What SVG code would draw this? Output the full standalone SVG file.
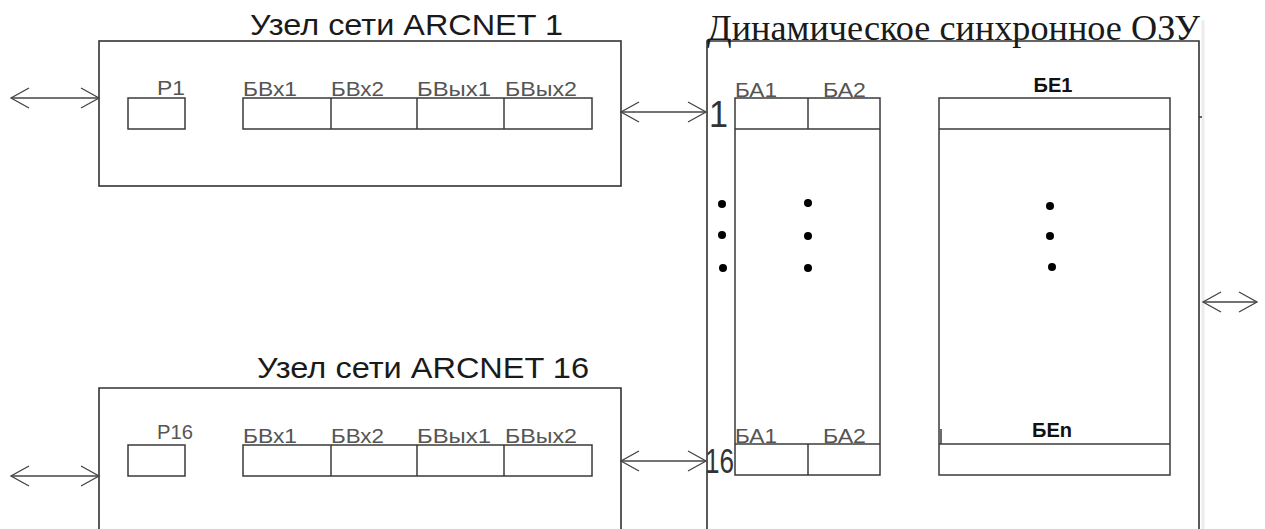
<svg xmlns="http://www.w3.org/2000/svg" width="1265" height="529" viewBox="0 0 1265 529">
<style>
.box{fill:none;stroke:#333;stroke-width:1.6}
.cell{fill:none;stroke:#3a3a3a;stroke-width:1.5}
.conn{fill:none;stroke:#444;stroke-width:1.3}
.title{font-family:"Liberation Sans",Arial,sans-serif;font-size:30px;fill:#1a1a1a}
.rtitle{font-family:"Liberation Serif","Times New Roman",serif;font-size:35px;fill:#1a1a1a}
.lbl{font-family:"Liberation Sans",Arial,sans-serif;font-size:21px;fill:#555}
.num{font-family:"Liberation Sans",Arial,sans-serif;fill:#333}
.bold{font-family:"Liberation Sans",Arial,sans-serif;font-size:20px;font-weight:bold;fill:#111;text-anchor:middle}
.dot{fill:#000}
</style>
<defs>
<marker id="chev" viewBox="-20 -12 22 24" markerWidth="22" markerHeight="24" refX="0" refY="0" orient="auto-start-reverse" markerUnits="userSpaceOnUse">
<path d="M-18,-10 L0,0 L-18,10" fill="none" stroke="#444" stroke-width="1.3"/>
</marker>
</defs>
<rect width="1265" height="529" fill="#fff"/>

<g id="node1">
<rect class="box" x="99" y="41" width="522" height="145"/>
<text class="title" x="250" y="35" textLength="313" lengthAdjust="spacingAndGlyphs">Узел сети ARCNET 1</text>
<rect class="cell" x="128" y="98" width="57" height="31"/>
<rect class="cell" x="243" y="98" width="349" height="31"/>
<line class="cell" x1="331" y1="98" x2="331" y2="129"/>
<line class="cell" x1="417" y1="98" x2="417" y2="129"/>
<line class="cell" x1="504" y1="98" x2="504" y2="129"/>
<text class="lbl" x="157" y="95" textLength="28" lengthAdjust="spacingAndGlyphs">P1</text>
<text class="lbl" x="243" y="96" textLength="54" lengthAdjust="spacingAndGlyphs">БВх1</text>
<text class="lbl" x="331" y="96" textLength="53" lengthAdjust="spacingAndGlyphs">БВх2</text>
<text class="lbl" x="417" y="96" textLength="74" lengthAdjust="spacingAndGlyphs">БВых1</text>
<text class="lbl" x="505" y="96" textLength="72" lengthAdjust="spacingAndGlyphs">БВых2</text>
</g>

<g id="node16">
<path class="box" d="M99,540 V388 H621 V540"/>
<text class="title" x="257" y="378" textLength="332" lengthAdjust="spacingAndGlyphs">Узел сети ARCNET 16</text>
<rect class="cell" x="128" y="445" width="57" height="31"/>
<rect class="cell" x="243" y="445" width="349" height="31"/>
<line class="cell" x1="331" y1="445" x2="331" y2="476"/>
<line class="cell" x1="417" y1="445" x2="417" y2="476"/>
<line class="cell" x1="504" y1="445" x2="504" y2="476"/>
<text class="lbl" x="157" y="439" textLength="36" lengthAdjust="spacingAndGlyphs">P16</text>
<text class="lbl" x="243" y="443" textLength="54" lengthAdjust="spacingAndGlyphs">БВх1</text>
<text class="lbl" x="331" y="443" textLength="53" lengthAdjust="spacingAndGlyphs">БВх2</text>
<text class="lbl" x="417" y="443" textLength="74" lengthAdjust="spacingAndGlyphs">БВых1</text>
<text class="lbl" x="505" y="443" textLength="72" lengthAdjust="spacingAndGlyphs">БВых2</text>
</g>

<g id="ram">
<path class="box" d="M707,540 V41 H1199 V540"/>
<line x1="1203" y1="20" x2="1203" y2="540" stroke="#ececec" stroke-width="3"/>
<text class="rtitle" x="707" y="40" textLength="493" lengthAdjust="spacingAndGlyphs">Динамическое синхронное ОЗУ</text>
<text class="num" x="709" y="127" font-size="37" textLength="19" lengthAdjust="spacingAndGlyphs">1</text>
<text class="num" x="705" y="473" font-size="35" textLength="29" lengthAdjust="spacingAndGlyphs">16</text>
<line x1="1199" y1="117" x2="1202" y2="117" stroke="#333" stroke-width="1.5"/>
</g>

<g id="ba-column">
<rect class="cell" x="735" y="98" width="145" height="377"/>
<line class="cell" x1="735" y1="129" x2="880" y2="129"/>
<line class="cell" x1="808" y1="98" x2="808" y2="129"/>
<line class="cell" x1="735" y1="444" x2="880" y2="444"/>
<line class="cell" x1="808" y1="444" x2="808" y2="475"/>
<text class="lbl" x="735" y="97" textLength="42" lengthAdjust="spacingAndGlyphs">БА1</text>
<text class="lbl" x="823" y="97" textLength="43" lengthAdjust="spacingAndGlyphs">БА2</text>
<text class="lbl" x="735" y="443" textLength="42" lengthAdjust="spacingAndGlyphs">БА1</text>
<text class="lbl" x="823" y="443" textLength="43" lengthAdjust="spacingAndGlyphs">БА2</text>
</g>

<g id="be-column">
<rect class="cell" x="939" y="98" width="231" height="377"/>
<line class="cell" x1="939" y1="129" x2="1170" y2="129"/>
<line class="cell" x1="939" y1="444" x2="1170" y2="444"/>
<line class="cell" x1="941" y1="429" x2="941" y2="444"/>
<text class="bold" x="1053" y="92">БЕ1</text>
<text class="bold" x="1052" y="437">БЕn</text>
</g>

<g id="dots">
<circle class="dot" cx="722" cy="204" r="4"/>
<circle class="dot" cx="722" cy="235" r="4"/>
<circle class="dot" cx="723" cy="268" r="4"/>
<circle class="dot" cx="808" cy="203" r="4"/>
<circle class="dot" cx="808" cy="236" r="4"/>
<circle class="dot" cx="808" cy="268" r="4"/>
<circle class="dot" cx="1050" cy="206" r="4"/>
<circle class="dot" cx="1050" cy="236" r="4"/>
<circle class="dot" cx="1052" cy="267" r="4"/>
</g>

<g id="connectors">
<line class="conn" x1="11" y1="98" x2="99" y2="98" marker-start="url(#chev)" marker-end="url(#chev)"/>
<line class="conn" x1="621" y1="112" x2="706" y2="112" marker-start="url(#chev)" marker-end="url(#chev)"/>
<line class="conn" x1="11" y1="476" x2="99" y2="476" marker-start="url(#chev)" marker-end="url(#chev)"/>
<line class="conn" x1="621" y1="461" x2="706" y2="461" marker-start="url(#chev)" marker-end="url(#chev)"/>
<line class="conn" x1="1203" y1="302" x2="1257" y2="302" marker-start="url(#chev)" marker-end="url(#chev)"/>
</g>
</svg>
